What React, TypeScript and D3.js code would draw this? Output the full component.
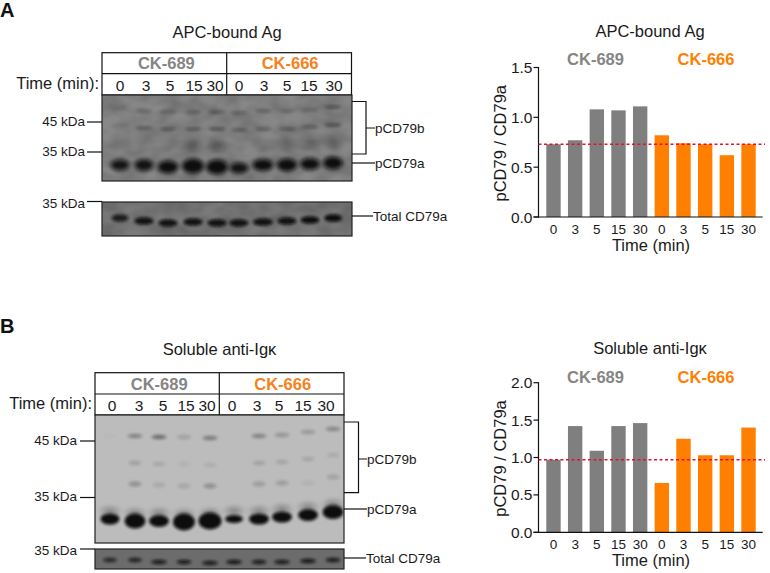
import React from "react";
import * as d3 from "d3";

const times = ["0", "3", "5", "15", "30"];
const groups = ["CK-689", "CK-666"];
const laneLabels = [...times, ...times];
const ratioA = [0.73, 0.77, 1.08, 1.07, 1.11, 0.82, 0.74, 0.73, 0.62, 0.73];
const ratioB = [0.97, 1.42, 1.09, 1.42, 1.46, 0.66, 1.25, 1.03, 1.03, 1.4];
const refA = 0.73;
const refB = 0.97;

// blot band readings: lane centre, band row, strength
const lanesA = [120, 144, 168, 193, 217, 239, 263, 287, 310, 333];
const lanesB = [110, 135, 159, 184, 210, 234, 259, 282, 308, 333];
const mainA = { y: [165, 165, 167, 166, 167, 168, 165, 165, 164, 163], w: [9.5, 9.5, 10.5, 11, 11, 9.5, 10.5, 10.5, 10, 10], h: [5.5, 6, 6.5, 7.5, 7.5, 5.5, 6, 6.5, 6, 6.5], o: [0.95, 0.95, 1, 1, 1, 0.95, 1, 1, 1, 1] };
const upperA = { y: [108, 111, 112, 112, 112, 113, 111, 111, 110, 107], o: [0.12, 0.22, 0.28, 0.32, 0.36, 0.3, 0.26, 0.26, 0.26, 0.4] };
const midA = { y: [126, 128, 129, 129, 129, 130, 129, 129, 127, 125], o: [0.1, 0.3, 0.35, 0.42, 0.5, 0.35, 0.35, 0.35, 0.35, 0.5] };
const lowA = { y: [144, 145, 146, 145, 146, 146, 146, 145, 142, 141], o: [0, 0.08, 0.1, 0.28, 0.3, 0, 0.08, 0.15, 0.22, 0.25] };
const totalA = { y: [218, 221, 223, 222, 223, 223, 222, 221, 220, 218], w: [8.5, 9.5, 9.5, 9.5, 9.5, 9.5, 10, 9.5, 9.5, 9], o: [0.85, 0.95, 0.95, 0.95, 0.95, 0.95, 0.95, 0.95, 1, 1] };
const mainB = { y: [519, 521, 521, 522, 521, 519, 519, 517, 515, 512], w: [9.5, 10.5, 10, 11, 11.5, 9, 10, 10, 10, 10.5], h: [5.5, 7.5, 6, 8.5, 8.5, 4, 5.5, 5.5, 6, 7], o: [1, 1, 1, 1, 1, 1, 1, 1, 1, 1] };
const upperB = { y: [436, 436, 437, 437, 438, 436, 436, 435, 432, 429], o: [0.02, 0.32, 0.45, 0.15, 0.36, 0, 0.32, 0.22, 0.2, 0.3] };
const midB = { y: [463, 463, 464, 464, 465, 463, 463, 462, 459, 455], o: [0, 0.16, 0.12, 0.06, 0.08, 0, 0.15, 0.14, 0.13, 0.1] };
const lowB = { y: [485, 484, 485, 486, 486, 485, 484, 483, 483, 477], o: [0, 0.25, 0.1, 0.12, 0.25, 0, 0.18, 0.18, 0.06, 0.15] };
const totalB = { y: [560, 560, 562, 562, 563, 562, 562, 562, 561, 560], w: [7, 7, 8, 7.5, 8, 8, 7.5, 8, 8, 7.5], o: [0.75, 0.8, 0.85, 0.85, 0.85, 0.9, 0.85, 0.85, 0.9, 0.85] };

const FONT = "'Liberation Sans', Arial, sans-serif";
const GREY = "#7f7f7f";
const ORANGE = "#ff8000";
const TGREY = "#858585";
const TORANGE = "#f58220";

function Txt(p: any) {
  return <text fontFamily={FONT} fill="#1a1a1a" {...p} />;
}

function Bars({ values, ref0, top, bottom, max, step, title, titleY, headY }: any) {
  const x = d3.scaleBand<number>().domain(d3.range(10)).range([542.6, 759.4]).paddingInner(0.336).paddingOuter(0.17);
  const y = d3.scaleLinear().domain([0, max]).range([bottom, top]);
  const axisX = 538.5;
  const ticks = d3.range(0, max + 0.001, step);
  return (
    <g>
      <Txt x={650} y={titleY} textAnchor="middle" fontSize={16.5}>{title}</Txt>
      <text x={595.5} y={headY} textAnchor="middle" fontFamily={FONT} fontWeight="bold" fontSize={16.5} fill={TGREY}>{groups[0]}</text>
      <text x={706} y={headY} textAnchor="middle" fontFamily={FONT} fontWeight="bold" fontSize={16.5} fill={ORANGE}>{groups[1]}</text>
      {values.map((v: number, i: number) => (
        <rect key={i} x={x(i)} y={y(v)} width={x.bandwidth()} height={bottom - y(v)} fill={i < 5 ? GREY : ORANGE} />
      ))}
      <line x1={axisX} x2={axisX} y1={top - 0.5} y2={bottom + 0.5} stroke="#111" strokeWidth={1.2} />
      <line x1={axisX - 5} x2={762.7} y1={bottom} y2={bottom} stroke="#111" strokeWidth={1.2} />
      {ticks.map((t) => (
        <g key={t}>
          <line x1={axisX - 5} x2={axisX} y1={y(t)} y2={y(t)} stroke="#111" strokeWidth={1.2} />
          <Txt x={532.5} y={y(t) + 5.5} textAnchor="end" fontSize={15.5}>{t.toFixed(1)}</Txt>
        </g>
      ))}
      {laneLabels.map((l, i) => (
        <Txt key={i} x={x(i)! + x.bandwidth() / 2} y={bottom + 16.5} textAnchor="middle" fontSize={13.5}>{l}</Txt>
      ))}
      <Txt x={651} y={bottom + 33.5} textAnchor="middle" fontSize={16.5}>Time (min)</Txt>
      <Txt transform={`translate(506,${(top + bottom) / 2 + 1}) rotate(-90)`} textAnchor="middle" fontSize={16.5}>pCD79 / CD79a</Txt>
      <line x1={axisX} x2={765} y1={y(ref0)} y2={y(ref0)} stroke="#e3122a" strokeWidth={1.3} strokeDasharray="3 2.5" />
    </g>
  );
}

function Head({ x0, x1, y0, ym, y1, div, labels }: any) {
  return (
    <g>
      <rect x={x0} y={y0} width={x1 - x0} height={y1 - y0} fill="#fff" stroke="#111" strokeWidth={1.2} />
      <line x1={x0} x2={x1} y1={ym} y2={ym} stroke="#111" strokeWidth={1.2} />
      <line x1={div} x2={div} y1={y0} y2={y1} stroke="#111" strokeWidth={1.2} />
      <text x={(x0 + div) / 2 + 2} y={ym - 4.5} textAnchor="middle" fontFamily={FONT} fontWeight="bold" fontSize={16.5} fill={TGREY}>{groups[0]}</text>
      <text x={(x1 + div) / 2 + 1} y={ym - 4.5} textAnchor="middle" fontFamily={FONT} fontWeight="bold" fontSize={16.5} fill={TORANGE}>{groups[1]}</text>
      <Txt x={x0 - 3} y={ym + 15} textAnchor="end" fontSize={16.5}>Time (min):</Txt>
      {labels.map((l: any, i: number) => (
        <Txt key={i} x={l} y={ym + 17} textAnchor="middle" fontSize={15.5}>{laneLabels[i]}</Txt>
      ))}
    </g>
  );
}

function Band({ cx, cy, rx, ry, o, blur }: any) {
  return <ellipse cx={cx} cy={cy} rx={rx} ry={ry} fill="#0a0a0a" opacity={o} filter={`url(#${blur})`} />;
}

function Row({ lanes, row, rx, ry, blur }: any) {
  return (
    <g>
      {lanes.map((cx: number, i: number) => (
        <Band key={i} cx={cx} cy={row.y[i]} rx={row.w ? row.w[i] : rx} ry={row.h ? row.h[i] : ry} o={row.o[i]} blur={blur} />
      ))}
    </g>
  );
}

function Tick({ x1, x2, y }: any) {
  return <line x1={x1} x2={x2} y1={y} y2={y} stroke="#111" strokeWidth={1.2} />;
}

export default function App() {
  return (
    <svg width={770} height={573} style={{ position: "absolute", left: 0, top: 0 }}>
      <defs>
        <filter id="b1" x="-60%" y="-150%" width="220%" height="400%"><feGaussianBlur stdDeviation="2" /></filter>
        <filter id="b2" x="-60%" y="-150%" width="220%" height="400%"><feGaussianBlur stdDeviation="1.6" /></filter>
        <filter id="b3" x="-60%" y="-150%" width="220%" height="400%"><feGaussianBlur stdDeviation="3.5 2.5" /></filter>
        <filter id="tex" x="0" y="0" width="100%" height="100%">
          <feTurbulence type="fractalNoise" baseFrequency="0.05 0.08" numOctaves={2} seed={4} />
          <feColorMatrix values="0 0 0 0 0 0 0 0 0 0 0 0 0 0 0 0.3 0 0 0 -0.08" />
        </filter>
        <clipPath id="ca"><rect x={102} y={95} width={250} height={86} /></clipPath>
        <clipPath id="cta"><rect x={102} y={202} width={250} height={34} /></clipPath>
        <clipPath id="cb"><rect x={95} y={415} width={249} height={128} /></clipPath>
        <clipPath id="ctb"><rect x={95} y={549} width={249} height={20} /></clipPath>
      </defs>
      <rect width={770} height={573} fill="#fff" />

      <text x={0} y={17} fontFamily={FONT} fontWeight="bold" fontSize={20} fill="#111">A</text>
      <text x={0} y={333} fontFamily={FONT} fontWeight="bold" fontSize={20} fill="#111">B</text>

      <Txt x={227} y={38} textAnchor="middle" fontSize={16.5}>APC-bound Ag</Txt>
      <Txt x={219.5} y={355} textAnchor="middle" fontSize={16.5}>Soluble anti-Igκ</Txt>

      <Head x0={102} x1={351.5} y0={52.7} ym={73.7} y1={95} div={226.7} labels={[120, 146, 170, 194, 215, 239, 264, 287, 309, 334]} />
      <Head x0={95} x1={344} y0={372.7} ym={394} y1={415} div={219.3} labels={[112, 139, 163, 186, 207, 232, 257, 279, 303, 326]} />

      {/* gel A */}
      <g clipPath="url(#ca)">
        <rect x={102} y={95} width={250} height={86} fill="#878787" />
        <rect x={102} y={95} width={250} height={86} filter="url(#tex)" />
        <Row lanes={lanesA} row={upperA} rx={8} ry={1.6} blur="b2" />
        <Row lanes={lanesA} row={midA} rx={8} ry={1.6} blur="b2" />
        <Row lanes={lanesA} row={lowA} rx={8} ry={6} blur="b3" />
        <Row lanes={lanesA} row={mainA} blur="b1" />
      </g>
      <rect x={102} y={95} width={250} height={86} fill="none" stroke="#222" strokeWidth={1.2} />

      <g clipPath="url(#cta)">
        <rect x={102} y={202} width={250} height={34} fill="#7a7a7a" />
        <rect x={102} y={202} width={250} height={34} filter="url(#tex)" />
        {lanesA.map((cx, i) => (
          <Band key={i} cx={cx} cy={totalA.y[i]} rx={totalA.w[i]} ry={3.8} o={totalA.o[i]} blur="b2" />
        ))}
      </g>
      <rect x={102} y={202} width={250} height={34} fill="none" stroke="#222" strokeWidth={1.2} />

      {/* gel B */}
      <g clipPath="url(#cb)">
        <rect x={95} y={415} width={249} height={128} fill="#bcbcbc" />
        <Row lanes={lanesB} row={upperB} rx={7.5} ry={2.2} blur="b2" />
        <Row lanes={lanesB} row={midB} rx={6.5} ry={2.2} blur="b2" />
        <Row lanes={lanesB} row={lowB} rx={6.5} ry={2.5} blur="b2" />
        <Row lanes={lanesB} row={{ y: mainB.y.map((v) => v - 8), o: mainB.o.map(() => 0.3) }} rx={8} ry={4} blur="b3" />
        <Row lanes={lanesB} row={mainB} blur="b2" />
      </g>
      <rect x={95} y={415} width={249} height={128} fill="none" stroke="#222" strokeWidth={1.2} />

      <g clipPath="url(#ctb)">
        <rect x={95} y={549} width={249} height={20} fill="#6c6c6c" />
        {lanesB.map((cx, i) => (
          <Band key={i} cx={cx} cy={totalB.y[i]} rx={totalB.w[i]} ry={2.2} o={totalB.o[i]} blur="b2" />
        ))}
      </g>
      <rect x={95} y={549} width={249} height={20} fill="none" stroke="#222" strokeWidth={1.2} />

      {/* marks A */}
      <Tick x1={87} x2={102} y={122} />
      <Tick x1={87} x2={102} y={152} />
      <Tick x1={87} x2={102} y={201.5} />
      <Txt x={85} y={126} textAnchor="end" fontSize={13.5}>45 kDa</Txt>
      <Txt x={85} y={156} textAnchor="end" fontSize={13.5}>35 kDa</Txt>
      <Txt x={85} y={208} textAnchor="end" fontSize={13.5}>35 kDa</Txt>
      <path d="M352 101.5H366V154H352M366 128H375" fill="none" stroke="#111" strokeWidth={1.2} />
      <Tick x1={352} x2={375} y={163} />
      <Tick x1={352} x2={373} y={216} />
      <Txt x={375} y={133} fontSize={13.5}>pCD79b</Txt>
      <Txt x={375} y={168} fontSize={13.5}>pCD79a</Txt>
      <Txt x={373} y={220.5} fontSize={13.5}>Total CD79a</Txt>

      {/* marks B */}
      <Tick x1={80} x2={95} y={441} />
      <Tick x1={80} x2={95} y={497.5} />
      <Tick x1={80} x2={95} y={549} />
      <Txt x={77} y={445} textAnchor="end" fontSize={13.5}>45 kDa</Txt>
      <Txt x={77} y={501} textAnchor="end" fontSize={13.5}>35 kDa</Txt>
      <Txt x={77} y={555} textAnchor="end" fontSize={13.5}>35 kDa</Txt>
      <path d="M344 422H358.5V492.7H344M358.5 459H367" fill="none" stroke="#111" strokeWidth={1.2} />
      <Tick x1={344} x2={367} y={509} />
      <Tick x1={344} x2={366} y={558} />
      <Txt x={367} y={464} fontSize={13.5}>pCD79b</Txt>
      <Txt x={367} y={514} fontSize={13.5}>pCD79a</Txt>
      <Txt x={366} y={562.5} fontSize={13.5}>Total CD79a</Txt>

      <Bars values={ratioA} ref0={refA} top={67.5} bottom={217} max={1.5} step={0.5} title="APC-bound Ag" titleY={37} headY={65} />
      <Bars values={ratioB} ref0={refB} top={382.7} bottom={532.3} max={2.0} step={0.5} title="Soluble anti-Igκ" titleY={354} headY={383} />
    </svg>
  );
}
